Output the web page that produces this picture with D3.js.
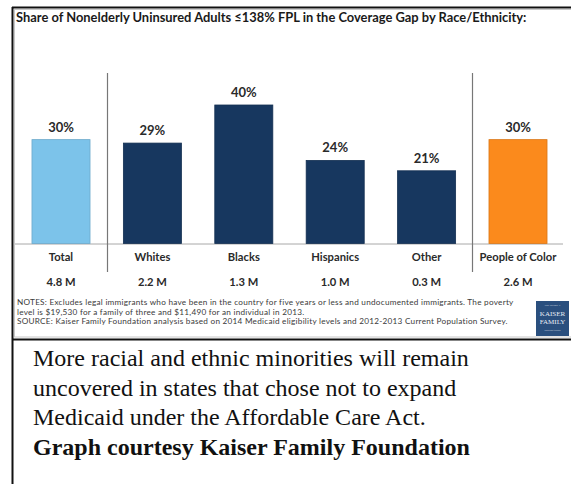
<!DOCTYPE html>
<html>
<head>
<meta charset="utf-8">
<script src="https://cdn.jsdelivr.net/npm/d3@7"></script>
<style>
  html, body { margin: 0; padding: 0; background: #fff; }
  svg { display: block; }
</style>
</head>
<body>
<svg id="chart" width="571" height="484"></svg>
<script>
// ---- data ----
const title = "Share of Nonelderly Uninsured Adults \u2264138% FPL in the Coverage Gap by Race/Ethnicity:";
const categories = ["Total", "Whites", "Blacks", "Hispanics", "Other", "People of Color"];
const shares = [30, 29, 40, 24, 21, 30];
const counts = ["4.8 M", "2.2 M", "1.3 M", "1.0 M", "0.3 M", "2.6 M"];
const groups = ["total", "race", "race", "race", "race", "color"];
const notes = [
  "NOTES: Excludes legal immigrants who have been in the country for five years or less and undocumented immigrants. The poverty",
  "level is $19,530 for a family of three and $11,490 for an individual in 2013.",
  "SOURCE: Kaiser Family Foundation analysis based on 2014 Medicaid eligibility levels and 2012-2013 Current Population Survey."
];
const caption = [
  "More racial and ethnic minorities will remain",
  "uncovered in states that chose not to expand",
  "Medicaid under the Affordable Care Act."
];
const credit = "Graph courtesy Kaiser Family Foundation";

// ---- styling ----
const fillByGroup = { total: "#7cc3ea", race: "#17375f", color: "#fb8a1c" };
const sans = "Lato, 'Open Sans', sans-serif";
const serif = "'Liberation Serif', 'DejaVu Serif', serif";

const svg = d3.select("#chart");

// frame of chart image
svg.append("rect").attr("x", 14.5).attr("y", 9.5).attr("width", 570).attr("height", 327.5)
  .attr("fill", "#fff").attr("stroke", "#c8c8c8").attr("stroke-width", 1);

// outer black frame lines
svg.append("line").attr("x1", 12).attr("x2", 571).attr("y1", 7.5).attr("y2", 7.5)
  .attr("stroke", "#111").attr("stroke-width", 2);
svg.append("line").attr("x1", 12.5).attr("x2", 12.5).attr("y1", 7).attr("y2", 484)
  .attr("stroke", "#111").attr("stroke-width", 2);
svg.append("line").attr("x1", 12).attr("x2", 571).attr("y1", 339.5).attr("y2", 339.5)
  .attr("stroke", "#111").attr("stroke-width", 2);

// title
svg.append("text").attr("x", 16).attr("y", 21.5)
  .attr("font-family", sans).attr("font-weight", 700).attr("font-size", 12.9)
  .attr("fill", "#1a1a1a")
  .text(title);

// scales
const x = d3.scaleBand().domain(categories).range([15.3, 563.7])
  .paddingInner(0.365).paddingOuter(0.1825);
const y = d3.scaleLinear().domain([0, 40]).range([243.5, 105]);

const data = categories.map((c, i) => ({ c, v: shares[i], n: counts[i], g: groups[i] }));

// baseline axis
const axis = d3.axisBottom(x).tickSize(0).tickFormat("");
const gAxis = svg.append("g").attr("transform", `translate(0,${y(0)})`).call(axis);
gAxis.select(".domain").attr("stroke", "#a8a8a8").attr("d", "M15,0.5H563");

// dividers
const dividerX = [
  (x("Total") + x.bandwidth() + x("Whites")) / 2,
  (x("Other") + x.bandwidth() + x("People of Color")) / 2
];
svg.selectAll(".divider").data(dividerX).join("line")
  .attr("class", "divider")
  .attr("x1", d => Math.round(d) + 0.5).attr("x2", d => Math.round(d) + 0.5)
  .attr("y1", 73).attr("y2", 272)
  .attr("stroke", "#777").attr("stroke-width", 1.2);

// bars
svg.selectAll(".bar").data(data).join("rect")
  .attr("class", "bar")
  .attr("x", d => x(d.c)).attr("width", x.bandwidth())
  .attr("y", d => y(d.v)).attr("height", d => y(0) - y(d.v))
  .attr("fill", d => fillByGroup[d.g])
  .attr("stroke", d => d3.color(fillByGroup[d.g]).darker(0.4))
  .attr("stroke-width", 0.8);

// value labels
svg.selectAll(".val").data(data).join("text")
  .attr("class", "val")
  .attr("x", d => x(d.c) + x.bandwidth() / 2)
  .attr("y", d => y(d.v) - 8)
  .attr("text-anchor", "middle")
  .attr("font-family", sans).attr("font-weight", 700).attr("font-size", 13)
  .attr("fill", "#2a2a2a")
  .text(d => d.v + "%");

// category labels
svg.selectAll(".cat").data(data).join("text")
  .attr("class", "cat")
  .attr("x", d => x(d.c) + x.bandwidth() / 2)
  .attr("y", 261)
  .attr("text-anchor", "middle")
  .attr("font-family", sans).attr("font-weight", 700).attr("font-size", 11.2)
  .attr("fill", "#2a2a2a")
  .text(d => d.c);

// counts
svg.selectAll(".cnt").data(data).join("text")
  .attr("class", "cnt")
  .attr("x", d => x(d.c) + x.bandwidth() / 2)
  .attr("y", 286)
  .attr("text-anchor", "middle")
  .attr("font-family", sans).attr("font-weight", 700).attr("font-size", 11.2)
  .attr("fill", "#2a2a2a")
  .text(d => d.n);

// notes
svg.selectAll(".note").data(notes).join("text")
  .attr("class", "note")
  .attr("x", 17)
  .attr("y", (d, i) => 305 + i * 9.6)
  .attr("font-family", sans).attr("font-size", 8.2)
  .attr("letter-spacing", 0.25)
  .attr("fill", "#3a3a3a")
  .text(d => d);

// logo
const logo = svg.append("g").attr("transform", "translate(536,301)");
logo.append("rect").attr("width", 33).attr("height", 35).attr("fill", "#2a4f7e");
const logoText = [["THE HENRY J.", 5, 2.5], ["KAISER", 15, 7], ["FAMILY", 23, 7], ["FOUNDATION", 30, 2.5]];
logo.selectAll("text").data(logoText).join("text")
  .attr("x", 16.5).attr("y", d => d[1])
  .attr("text-anchor", "middle")
  .attr("font-family", serif).attr("font-size", d => d[2])
  .attr("fill", "#e8eef6")
  .text(d => d[0]);

// caption
const capY0 = 366, capStep = 29.7;
svg.selectAll(".cap").data(caption).join("text")
  .attr("class", "cap")
  .attr("x", 33)
  .attr("y", (d, i) => capY0 + i * capStep)
  .attr("font-family", serif).attr("font-size", 24)
  .attr("fill", "#111")
  .text(d => d);

svg.append("text")
  .attr("x", 33).attr("y", capY0 + 3 * capStep)
  .attr("font-family", serif).attr("font-weight", 700).attr("font-size", 24)
  .attr("fill", "#111")
  .text(credit);
</script>
</body>
</html>
